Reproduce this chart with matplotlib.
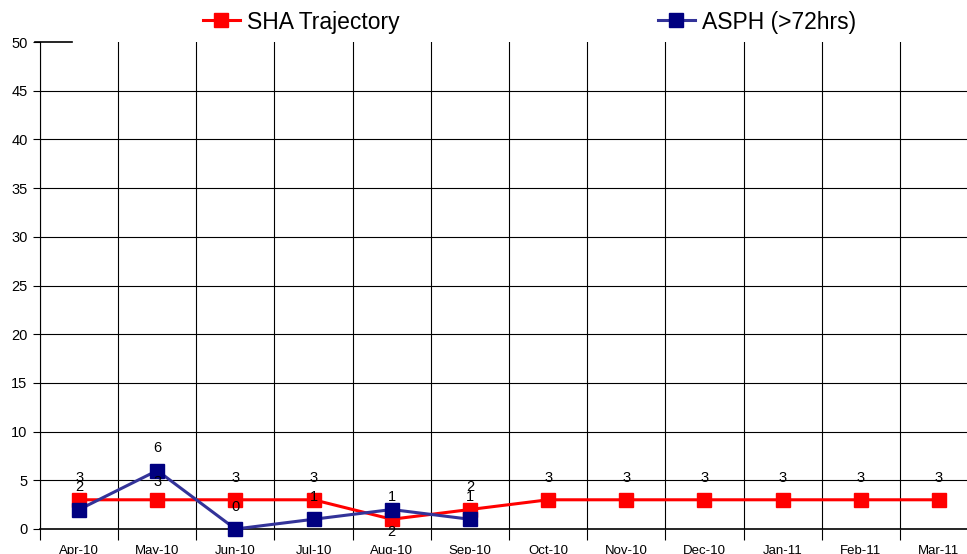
import matplotlib.pyplot as plt
from matplotlib.lines import Line2D

plt.rcParams['font.family'] = ['Liberation Sans', 'DejaVu Sans']

months = ['Apr-10', 'May-10', 'Jun-10', 'Jul-10', 'Aug-10', 'Sep-10',
          'Oct-10', 'Nov-10', 'Dec-10', 'Jan-11', 'Feb-11', 'Mar-11']
sha_trajectory = [3, 3, 3, 3, 1, 2, 3, 3, 3, 3, 3, 3]
asph_72hrs = [2, 6, 0, 1, 2, 1]
y_ticks = [0, 5, 10, 15, 20, 25, 30, 35, 40, 45, 50]

# label offsets (points) that differ from the default 16 above the marker
sha_label_dy = {'May-10': 12.5}
asph_label_dy = {'Aug-10': -16}

fig = plt.figure(figsize=(9.67, 5.54), dpi=100)
ax = fig.add_axes([40 / 967, 1 - 529 / 554, 938 / 967, 487 / 554])

x_all = list(range(len(months)))
x_asph = x_all[:len(asph_72hrs)]

ax.set_xlim(-0.5, len(months) - 0.5)
ax.set_ylim(0, 50)

# grid: horizontal every 5 (except top), vertical at month boundaries
for v in y_ticks[1:-1]:
    ax.axhline(v, color='black', lw=0.8, zorder=1)
ax.plot([-0.5 - 5 / 78.2, -0.5 + 32 / 78.2], [50, 50], color='black',
        lw=1.2, clip_on=False, zorder=1)
bounds = [i - 0.5 for i in range(len(months) + 1)]
ax.set_xticks(bounds)
ax.set_xticklabels([])
ax.tick_params(axis='x', which='major', length=8, width=0.8, color='black')
ax.xaxis.grid(True, which='major', color='black', lw=0.8)
ax.set_xticks(x_all, minor=True)
ax.set_xticklabels(months, minor=True, fontsize=9.5)
ax.tick_params(axis='x', which='minor', length=0, pad=11.5)

ax.set_yticks(y_ticks)
ax.set_yticklabels([str(v) for v in y_ticks], fontsize=10.5)
ax.tick_params(axis='y', length=5, width=0.8, pad=4)

for side in ['top', 'right']:
    ax.spines[side].set_visible(False)
ax.spines['left'].set_linewidth(0.8)
ax.spines['bottom'].set_linewidth(1.2)
ax.set_axisbelow(True)

ax.plot(x_all, sha_trajectory, color='#FF0000', lw=2.2, marker='s',
        markersize=10, markerfacecolor='#FF0000', markeredgecolor='#FF0000',
        clip_on=False, zorder=3, label='SHA Trajectory')
ax.plot(x_asph, asph_72hrs, color='#333399', lw=2.2, marker='s',
        markersize=10, markerfacecolor='#000080', markeredgecolor='#000080',
        clip_on=False, zorder=4, label='ASPH (>72hrs)')

# data labels
for x, v in zip(x_all, sha_trajectory):
    dy = sha_label_dy.get(months[x], 16)
    ax.annotate(str(v), (x, v), xytext=(0, dy), textcoords='offset points',
                ha='center', va='center', fontsize=10.5, zorder=5)
for x, v in zip(x_asph, asph_72hrs):
    dy = asph_label_dy.get(months[x], 16)
    ax.annotate(str(v), (x, v), xytext=(0, dy), textcoords='offset points',
                ha='center', va='center', fontsize=10.5, zorder=5)

handles = [
    Line2D([], [], color='#FF0000', lw=2.2, marker='s', markersize=10,
           markerfacecolor='#FF0000', markeredgecolor='#FF0000'),
    Line2D([], [], color='#333399', lw=2.2, marker='s', markersize=10,
           markerfacecolor='#000080', markeredgecolor='#000080'),
]
fig.legend(handles, ['SHA Trajectory', 'ASPH (>72hrs)'], loc='center left',
           bbox_to_anchor=(203 / 967, 1 - 22 / 554), ncol=2, frameon=False,
           fontsize=16.5, handlelength=1.6, handletextpad=0.3,
           columnspacing=11.3, borderpad=0, borderaxespad=0)

fig.savefig('out.png', dpi=100)
